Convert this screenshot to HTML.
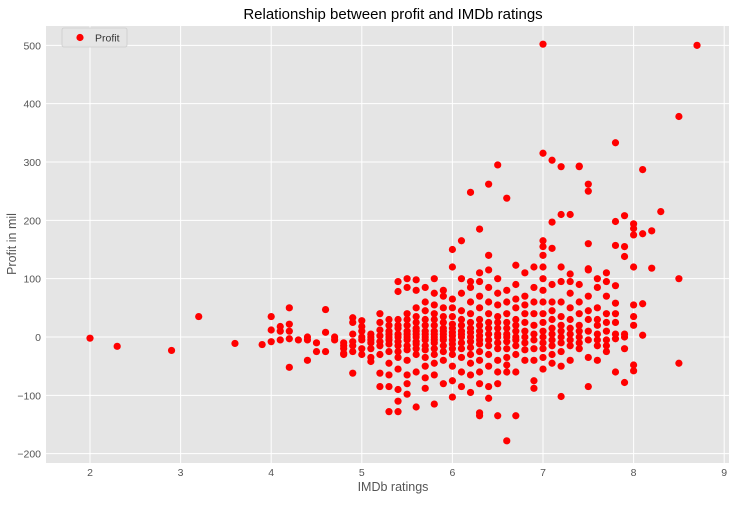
<!DOCTYPE html>
<html><head><meta charset="utf-8">
<style>
body{margin:0;background:#fff;font-family:"Liberation Sans",sans-serif;}
svg text{font-family:"Liberation Sans",sans-serif;}
</style></head>
<body>
<svg id="chart" width="738" height="500" xmlns="http://www.w3.org/2000/svg">
<rect x="0" y="0" width="738" height="500" fill="#fff"/>
<rect x="46" y="26" width="683" height="437" fill="#e5e5e5"/>
<g id="grid"></g>
<g id="ticks"></g>
<g id="points"></g>
<text x="393" y="19" font-size="15" text-anchor="middle" fill="#000">Relationship between profit and IMDb ratings</text>
<text x="393" y="491" font-size="12.5" text-anchor="middle" fill="#555">IMDb ratings</text>
<text transform="translate(16,244) rotate(-90)" font-size="12.5" text-anchor="middle" fill="#555">Profit in mil</text>
<g>
<rect x="62" y="28" width="65" height="19" fill="#e5e5e5" stroke="#ccc" stroke-width="0.8" rx="2"/>
<circle cx="80" cy="37.5" r="3.6" fill="red"/>
<text x="95" y="41.5" font-size="10.5" fill="#333">Profit</text>
</g>
</svg>
<script>
const xTicks=[2,3,4,5,6,7,8,9];
const yTicks=[-200,-100,0,100,200,300,400,500];
const ratingCols=[2.0,2.3,2.9,3.2,3.6,3.9,4.0,4.1,4.2,4.3,4.4,4.5,4.6,4.7,4.8,4.9,5.0,5.1,5.2,5.3,5.4,5.5,5.6,5.7,5.8,5.9,6.0,6.1,6.2,6.3,6.4,6.5,6.6,6.7,6.8,6.9,7.0,7.1,7.2,7.3,7.4,7.5,7.6,7.7,7.8,7.9,8.0,8.1,8.2,8.3,8.5,8.7];
const profitCols=[
[-2],[-16],[-23],[35],[-11],[-13],
[35,12,-8],[18,10,-5],[50,22,10,-3,-52],[-5],[-40,0,-5],[-10,-25],[47,8,-25],[-5,0],
[-10,-20,-28,-30,-15],[33,25,5,-8,-15,-62,-25],[28,18,10,0,-5,-20,-30],[5,0,-5,-10,-35,-42,-20],
[40,25,12,2,-8,-15,-30,-62,-85],[30,20,10,5,0,-5,-12,-25,-45,-65,-85,-128],
[95,78,30,20,15,5,0,-8,-15,-25,-35,-55,-90,-110,-128],
[100,85,40,30,20,10,5,0,-5,-15,-22,-40,-65,-80,-98],
[98,80,50,35,25,15,10,5,0,-8,-12,-20,-30,-60,-120],
[85,60,45,30,20,10,5,0,-5,-15,-22,-35,-50,-70,-88],
[100,75,55,40,30,20,10,5,0,-5,-10,-20,-30,-45,-65,-115],
[80,70,50,35,25,15,10,5,0,-5,-15,-25,-40,-80],
[150,120,65,50,35,22,15,8,2,-5,-12,-20,-30,-50,-75,-103],
[165,100,75,45,30,20,10,5,0,-10,-20,-35,-60,-85],
[248,95,85,60,40,25,15,8,0,-8,-18,-30,-45,-65,-95],
[185,110,95,70,50,30,20,10,2,-5,-12,-25,-40,-60,-80,-130,-135],
[262,140,115,85,60,40,25,15,5,-5,-15,-30,-50,-85,-105],
[295,100,75,55,35,25,15,5,0,-10,-20,-40,-60,-80,-135],
[238,80,60,40,25,15,5,0,-8,-20,-35,-48,-60,-178],
[123,90,65,50,30,20,10,0,-5,-15,-30,-60,-135],
[110,70,55,40,25,10,0,-10,-22,-40],
[120,85,60,40,20,5,-5,-20,-40,-75,-88],
[502,315,165,155,140,120,100,80,60,40,25,10,0,-10,-20,-35,-55],
[303,197,152,90,60,45,30,15,5,-5,-15,-30,-45],
[292,210,120,95,60,35,20,10,0,-10,-25,-50,-102],
[210,108,95,75,50,30,15,5,-5,-15,-40],
[293,292,90,60,40,20,10,0,-10,-20],
[262,250,160,117,115,70,45,30,10,-5,-35,-85],
[100,85,50,30,20,5,-5,-15,-40],
[110,95,70,40,25,10,-5,-15,-25],
[333,198,157,88,58,40,25,5,-3,-60],
[208,155,138,5,0,-20,-78],
[194,186,175,120,55,35,20,-48,-58],
[287,177,57,3],[182,118],[215],[378,100,-45],[500]
];
const NS="http://www.w3.org/2000/svg";
function xs(v){return 90+(v-2)*90.6;}
function ys(v){return 337-v*0.5833;}
const grid=document.getElementById('grid'),ticks=document.getElementById('ticks'),pts=document.getElementById('points');
xTicks.forEach(t=>{
  const l=document.createElementNS(NS,'line');
  
  
  l.setAttribute('x1',xs(t));l.setAttribute('x2',xs(t));l.setAttribute('y1',26);l.setAttribute('y2',463);
  l.setAttribute('stroke','#fff');l.setAttribute('stroke-width','1');grid.appendChild(l);
  const tx=document.createElementNS(NS,'text');
  
  
  tx.setAttribute('x',xs(t));tx.setAttribute('y',476);tx.setAttribute('font-size','10.5');
  tx.setAttribute('text-anchor','middle');tx.setAttribute('fill','#555');tx.textContent=t;ticks.appendChild(tx);
});
yTicks.forEach(t=>{
  const l=document.createElementNS(NS,'line');
  
  
  l.setAttribute('y1',ys(t));l.setAttribute('y2',ys(t));l.setAttribute('x1',46);l.setAttribute('x2',729);
  l.setAttribute('stroke','#fff');l.setAttribute('stroke-width','1');grid.appendChild(l);
  const tx=document.createElementNS(NS,'text');
  
  
  tx.setAttribute('x',41);tx.setAttribute('y',ys(t)+4);tx.setAttribute('font-size','10.5');
  tx.setAttribute('text-anchor','end');tx.setAttribute('fill','#555');tx.textContent=(t<0?'\u2212'+(-t):t);ticks.appendChild(tx);
});
ratingCols.forEach((r,i)=>{
  profitCols[i].forEach(p=>{
    const c=document.createElementNS(NS,'circle');
    
    
    c.setAttribute('cx',xs(r));c.setAttribute('cy',ys(p));c.setAttribute('r','3.6');c.setAttribute('fill','red');
    pts.appendChild(c);
  });
});
</script>
</body></html>
